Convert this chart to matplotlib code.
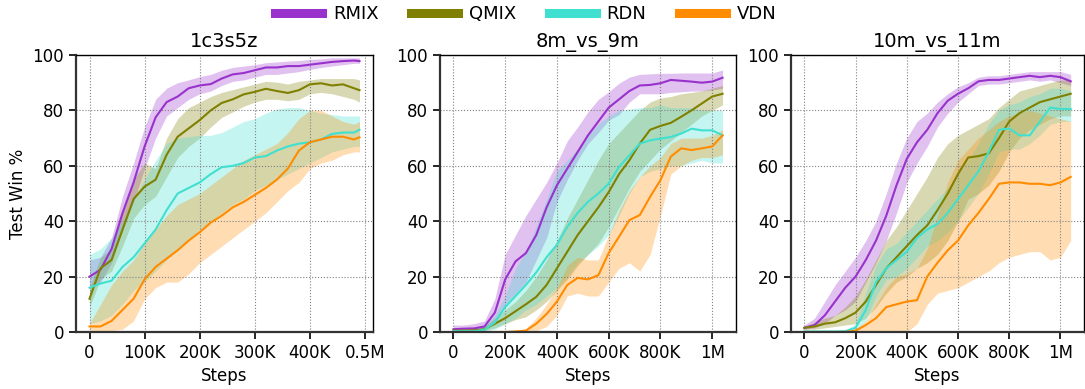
import numpy as np
import matplotlib
matplotlib.use('Agg')
import matplotlib.pyplot as plt
from matplotlib.lines import Line2D

# steps (x) for each map
steps_1c3s5z = list(range(0, 480001, 20000)) + [490000]
steps_long = list(range(0, 1040001, 40000))

methods = ['RMIX', 'QMIX', 'RDN', 'VDN']
colors = ['#9932CC', '#808000', '#40E0D0', '#FF8C00']

# ---- 1c3s5z ----
rmix_1c3s5z = [20, 22.5, 30, 43, 54, 67, 77.5, 83, 85, 88, 89, 89.5, 91.5, 93, 93.5, 94.5, 95.5, 95.5, 96, 96, 96.5, 97, 97.5, 97.8, 98, 97.8]
rmix_1c3s5z_lo = [15.5, 18, 25, 37, 47, 59, 70, 78, 81, 84, 86, 87, 89, 90.5, 91, 92, 93, 93, 93.5, 94, 94.8, 95.5, 96, 96.5, 97, 97]
rmix_1c3s5z_hi = [26, 27, 34, 49, 61, 74, 84, 88, 90, 91, 92.2, 93, 94.5, 95.5, 96, 96.5, 97.2, 97.5, 97.8, 98, 98.4, 98.6, 99, 99, 99, 99]
qmix_1c3s5z = [12, 23, 26, 37, 48, 52.5, 55, 64, 70.5, 73.5, 76.5, 80, 82.7, 84, 85.8, 86.7, 87.8, 87, 86.3, 87.3, 89.4, 89.8, 89, 89.4, 88, 87.3]
qmix_1c3s5z_lo = [9, 19, 22, 31, 41, 46, 49, 56, 63, 67, 70, 74, 77.5, 79.5, 81.5, 83, 84, 84, 83.5, 84, 86, 86.5, 86, 85, 84, 83]
qmix_1c3s5z_hi = [16, 27, 30, 43, 55, 61, 59, 70, 77, 81, 83, 85, 86.5, 87.5, 88.5, 89.5, 90.5, 90.2, 89.5, 90.5, 91, 91.5, 91.5, 91.5, 91.5, 91]
rdn_1c3s5z = [16, 17.5, 18.5, 23.5, 27, 32, 37, 44, 50, 52, 54, 57, 59.5, 60, 61, 63, 63.5, 65.5, 67, 68, 68.5, 69.5, 71.5, 72, 72, 73]
rdn_1c3s5z_lo = [3, 4, 6, 10, 15, 18, 22, 26, 30, 33, 37, 40, 43, 46, 48, 51, 53, 55, 57, 59, 61, 63, 65, 66, 67, 67]
rdn_1c3s5z_hi = [28, 30, 34, 40, 48, 55, 62, 68, 70, 70.5, 71, 71, 72, 74, 76, 77, 79, 80.5, 81, 81, 80, 79, 78.5, 78, 78, 78]
vdn_1c3s5z = [2, 2, 4, 8, 12, 19, 23.5, 26.5, 29.5, 33, 36, 39.5, 42, 45, 47, 49.5, 52, 55, 59, 65.5, 68.5, 69.5, 70.5, 70.5, 69.5, 70.3]
vdn_1c3s5z_lo = [0, 0, 0.5, 1, 4, 12, 16, 18, 18, 21, 25, 28, 31, 34, 37, 40, 43, 47, 51, 54, 59, 61, 62, 64, 65, 65]
vdn_1c3s5z_hi = [3, 10, 17, 22, 26, 32, 37, 42, 46, 48, 50, 53, 56, 59, 62, 64, 66, 68, 72, 77, 80, 80, 78, 76, 75, 76]

# ---- 8m_vs_9m ----
rmix_8m9m = [1, 1.2, 1.3, 2, 7, 19, 25.5, 28.5, 35, 45, 53, 59, 65, 71, 76, 81, 84, 87, 89, 89.2, 89.8, 91, 90.7, 90.4, 90, 90.4, 91.8]
rmix_8m9m_lo = [0.3, 0.5, 0.8, 1, 3, 10, 14, 18, 26, 34, 47, 55, 62, 68, 72, 76.5, 78.5, 83, 86, 86, 86, 86.5, 86.7, 87, 87, 87.4, 88]
rmix_8m9m_hi = [2.5, 2.5, 3, 4, 12, 28, 35, 42, 48, 54, 61, 69, 74, 79.5, 84, 86.7, 89.8, 92, 93, 93.2, 93.4, 93.4, 93.5, 93.5, 93.5, 93.5, 94.6]
qmix_8m9m = [0.5, 0.5, 0.6, 1, 3, 5, 7.5, 10, 12.7, 17, 23, 29, 35, 40, 45, 50.5, 57, 62, 68, 73, 74.4, 75.5, 77.7, 80, 82.5, 85, 86]
qmix_8m9m_lo = [0, 0, 0.2, 0.5, 1.5, 3, 4.5, 5.5, 8, 11, 15, 19, 24, 28, 32, 38, 45, 52, 58, 62, 66, 69, 72, 75, 78, 80, 82]
qmix_8m9m_hi = [1, 1, 1.2, 2, 5, 8, 11, 15, 20, 26, 33, 41, 48, 55, 62, 68, 72, 76, 80, 83, 84.5, 85, 86, 86.5, 87, 88, 89]
rdn_8m9m = [0.3, 0.3, 0.3, 0.8, 3.5, 9, 13, 17, 21.5, 27, 31.5, 38, 43, 47, 50, 53.6, 59.6, 63.8, 68, 69.2, 69.8, 70.4, 71.6, 73.4, 72.8, 72.8, 71]
rdn_8m9m_lo = [0, 0, 0, 0.2, 1, 3, 5, 8, 10, 13, 16, 20, 25, 28, 31, 35, 42, 50, 56, 58, 59, 60, 60, 61, 62, 61, 61]
rdn_8m9m_hi = [0.8, 0.8, 1, 2, 6, 13, 23, 29, 38, 48, 58, 62, 66, 71, 75, 78, 80, 80.5, 81, 81, 82, 81, 81, 81, 80, 80, 80]
vdn_8m9m = [0, 0, 0, 0, 0, 0, 0.2, 0.5, 3, 6.5, 11, 17, 19.5, 19, 20.5, 28.5, 34.4, 40.4, 42.2, 48.8, 54.8, 63.3, 66.3, 65.7, 66.3, 67, 71]
vdn_8m9m_lo = [0, 0, 0, 0, 0, 0, 0, 0, 0.5, 2, 6, 13, 14, 13, 13, 18, 23, 25, 22, 28, 42, 57, 60, 62, 63, 63, 64]
vdn_8m9m_hi = [0.2, 0.2, 0.2, 0.2, 0.2, 0.3, 0.5, 1.2, 5, 10, 16, 24, 27, 26, 26, 35, 44, 51, 56, 60, 63, 68, 70, 70, 70, 71, 73]

# ---- 10m_vs_11m ----
rmix_10m11m = [1.5, 2.5, 6, 11, 16, 20, 26, 33, 42, 53, 62.5, 68.5, 73, 79, 83.5, 86, 88, 90.5, 91, 91, 91.5, 92, 92.5, 92, 92.5, 92, 90.5]
rmix_10m11m_lo = [1, 1.5, 3, 6, 8, 11, 18, 25, 33, 43, 54, 61, 67, 74, 79, 83, 86, 89, 89.5, 89.5, 90, 90.5, 91, 90.5, 91, 90, 89]
rmix_10m11m_hi = [2.5, 5, 11, 17, 22, 27, 33, 40, 50, 61, 70, 76, 79, 83, 86, 88.5, 90, 92, 92.5, 92.5, 93, 93.5, 94, 94, 94, 94, 93]
qmix_10m11m = [1.5, 2, 3, 3.5, 5, 7, 11, 17, 23, 27, 31, 35, 38.5, 44, 50, 57, 63, 63.5, 64.5, 70, 76, 79, 81, 83, 84, 85, 86]
qmix_10m11m_lo = [1, 1, 1.5, 2, 2.5, 3, 5, 9, 14, 18, 20, 23, 25, 28, 33, 40, 48, 50, 53, 58, 65, 70, 73, 75, 77, 78, 78]
qmix_10m11m_hi = [2, 3.5, 5, 6, 9, 13, 19, 26, 33, 38, 44, 50, 56, 63, 68, 71, 73, 75, 77, 81, 84, 87, 88, 89, 90, 91, 91]
rdn_10m11m = [0.2, 0.2, 0.2, 0.2, 0.3, 1.5, 8, 18, 23, 26, 29, 34, 37, 39, 43, 48, 53, 58, 65, 73, 73.5, 71, 71, 76, 81, 80.5, 80.5]
rdn_10m11m_lo = [0, 0, 0, 0, 0, 0.5, 4, 13, 19, 20, 23, 27, 31, 33, 36, 40, 45, 50, 57, 65, 66, 66, 68, 71, 75, 76, 76]
rdn_10m11m_hi = [0.5, 0.5, 0.5, 0.5, 0.6, 3, 14, 24, 30, 32, 36, 40, 44, 48, 52, 57, 62, 68, 75, 80, 82, 83, 85, 86, 88, 88, 87]
vdn_10m11m = [0, 0, 0, 0, 0, 0.5, 2.5, 5, 9, 10, 11, 11.5, 20, 25, 29.5, 33, 38.5, 43, 48, 53.5, 54, 54, 53.5, 53.5, 53, 54, 56]
vdn_10m11m_lo = [0, 0, 0, 0, 0, 0, 0, 0, 0, 0, 0, 3, 10, 14, 15, 16, 18, 20, 22, 25, 27, 28, 29, 29, 26, 27, 33]
vdn_10m11m_hi = [0.3, 0.3, 0.3, 0.3, 0.3, 1, 4, 10, 16, 20, 21, 23, 30, 42, 54, 62, 66, 70, 73, 76, 78, 79, 80, 79, 78, 77, 76]

titles = ['1c3s5z', '8m_vs_9m', '10m_vs_11m']
ticks_short = [0, 100000, 200000, 300000, 400000, 500000]
ticklabels_short = ['0', '100K', '200K', '300K', '400K', '0.5M']
ticks_long = [0, 200000, 400000, 600000, 800000, 1000000]
ticklabels_long = ['0', '200K', '400K', '600K', '800K', '1M']

panels = [
    (steps_1c3s5z, [(rmix_1c3s5z, rmix_1c3s5z_lo, rmix_1c3s5z_hi),
                    (qmix_1c3s5z, qmix_1c3s5z_lo, qmix_1c3s5z_hi),
                    (rdn_1c3s5z, rdn_1c3s5z_lo, rdn_1c3s5z_hi),
                    (vdn_1c3s5z, vdn_1c3s5z_lo, vdn_1c3s5z_hi)],
     ticks_short, ticklabels_short),
    (steps_long, [(rmix_8m9m, rmix_8m9m_lo, rmix_8m9m_hi),
                  (qmix_8m9m, qmix_8m9m_lo, qmix_8m9m_hi),
                  (rdn_8m9m, rdn_8m9m_lo, rdn_8m9m_hi),
                  (vdn_8m9m, vdn_8m9m_lo, vdn_8m9m_hi)],
     ticks_long, ticklabels_long),
    (steps_long, [(rmix_10m11m, rmix_10m11m_lo, rmix_10m11m_hi),
                  (qmix_10m11m, qmix_10m11m_lo, qmix_10m11m_hi),
                  (rdn_10m11m, rdn_10m11m_lo, rdn_10m11m_hi),
                  (vdn_10m11m, vdn_10m11m_lo, vdn_10m11m_hi)],
     ticks_long, ticklabels_long),
]

W, H = 1085, 389
fig = plt.figure(figsize=(W / 100, H / 100), dpi=100)
boxes = [(76, 373), (440, 736), (791, 1084)]
top, bottom = 55, 332

for i, (steps, series, ticks, ticklabels) in enumerate(panels):
    l, r = boxes[i]
    ax = fig.add_axes([l / W, 1 - bottom / H, (r - l) / W, (bottom - top) / H])
    x = np.array(steps)
    for (m, lo, hi), c in zip(series, colors):
        ax.fill_between(x, lo, hi, color=c, alpha=0.3, linewidth=0)
    for (m, lo, hi), c in zip(series, colors):
        ax.plot(x, m, color=c, lw=1.5)
    ax.set_ylim(0, 100)
    ax.set_yticks([0, 20, 40, 60, 80, 100])
    ax.set_xticks(ticks)
    ax.set_xticklabels(ticklabels)
    ax.margins(x=0.05)
    ax.grid(True, linestyle=':', color='gray', linewidth=0.8)
    ax.tick_params(labelsize=12, length=5, width=1.2)
    for s in ['left', 'bottom']:
        ax.spines[s].set_linewidth(1.6)
        ax.spines[s].set_color('#333333')
    for s in ['top', 'right']:
        ax.spines[s].set_linewidth(1.0)
    ax.set_title(titles[i], fontsize=14)
    ax.set_xlabel('Steps', fontsize=12)
    if i == 0:
        ax.set_ylabel('Test Win %', fontsize=12)

handles = [Line2D([0], [0], color=c, lw=6.5) for c in colors]
fig.legend(handles, methods, loc='center', bbox_to_anchor=(526 / W, 1 - 14 / H),
           ncol=4, frameon=False, fontsize=13, handlelength=2.6,
           columnspacing=1.8, handletextpad=0.6)

fig.savefig('out.png', dpi=100)
